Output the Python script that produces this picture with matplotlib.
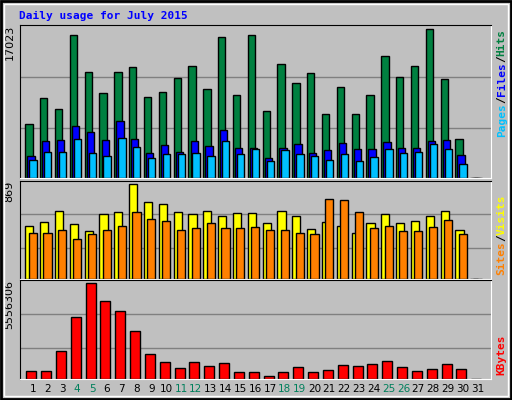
import matplotlib
matplotlib.use('Agg')
import matplotlib.pyplot as plt
from matplotlib.patches import Rectangle
import numpy as np

days = list(range(1, 32))
weekend = [4, 5, 11, 12, 18, 19, 25, 26]

hits = [6162, 9166, 7895, 16330, 12170, 9744, 12170, 12632, 9282, 9859, 11477, 12748, 10206, 16098, 9513,
        16330, 7664, 12979, 10899, 12055, 7317, 10437, 7317, 9513, 13903, 11592, 12748, 17023, 11361, 4429, 0]
files = [2464, 4197, 4312, 5929, 5236, 4312, 6507, 4428, 2811, 3735, 2926, 4197, 3619, 5467, 3388,
         3388, 2233, 3388, 3850, 2811, 3157, 3966, 3273, 3273, 4081, 3388, 3388, 4197, 4312, 2580, 0]
pages = [2002, 2926, 2926, 4428, 2811, 2464, 4543, 3504, 2233, 2695, 2695, 2811, 2464, 4197, 2695,
         3273, 1887, 3157, 2695, 2464, 2002, 2695, 1887, 2349, 3273, 2811, 2926, 3850, 3273, 1656, 0]
visits = [491, 520, 623, 501, 444, 595, 614, 869, 709, 690, 614, 595, 623, 576, 605,
          605, 510, 623, 576, 463, 520, 491, 425, 510, 595, 510, 529, 576, 623, 453, 0]
sites = [425, 425, 453, 368, 416, 453, 491, 614, 548, 529, 453, 472, 510, 472, 472,
         482, 453, 453, 425, 416, 737, 727, 614, 472, 491, 444, 444, 482, 538, 416, 0]
kbytes = [446000, 446000, 1602000, 3610000, 5556306, 4522000, 3975000, 2819000, 1480000, 994000,
          629000, 994000, 750000, 933000, 385000, 385000, 203000, 385000, 689000, 385000,
          507000, 811000, 750000, 872000, 1055000, 689000, 446000, 568000, 872000, 568000, 0]

BG = '#C0C0C0'
mono = 'DejaVu Sans Mono'

fig = plt.figure(figsize=(5.12, 4.0), dpi=100, facecolor=BG)
fig.patches.append(Rectangle((0.002, 0.003), 0.996, 0.994, transform=fig.transFigure,
                             fill=False, edgecolor='black', linewidth=2))
fig.patches.append(Rectangle((0.008, 0.011), 0.984, 0.98, transform=fig.transFigure,
                             fill=False, edgecolor='white', linewidth=1))
fig.text(0.037, 0.96, 'Daily usage for July 2015', color='#0000FF', family=mono,
         fontweight='bold', fontsize=8, va='center')

x = np.arange(31)
L, W = 20 / 512, 471 / 512


def make_ax(top, bottom, ymax, grids, label):
    ax = fig.add_axes([L, 1 - bottom / 400, W, (bottom - top) / 400])
    ax.set_facecolor(BG)
    ax.set_xlim(-0.356, 31.4)
    ax.set_ylim(0, ymax)
    for g in grids:
        ax.axhline(g, color='#808080', linewidth=1, zorder=0)
    ax.set_xticks([])
    ax.set_yticks([])
    for s in ['left', 'top']:
        ax.spines[s].set_color('black')
    for s in ['right', 'bottom']:
        ax.spines[s].set_color('white')
    ax.text(-0.012, 1.0, label, transform=ax.transAxes, rotation=90, ha='right', va='top',
            fontsize=8, color='black')
    return ax


def right_label(ax, parts, y0):
    # chain coloured words bottom-to-top along the right margin
    txt, col = parts[0]
    prev = ax.text(1.012, y0, txt, transform=ax.transAxes, rotation=90, ha='left', va='bottom',
                   color=col, family=mono, fontweight='bold', fontsize=8)
    for txt, col in parts[1:]:
        prev = ax.annotate(txt, xy=(0.5, 1), xycoords=prev, rotation=90, ha='center', va='bottom',
                           color=col, family=mono, fontweight='bold', fontsize=8)


kw = dict(align='edge', edgecolor='black', linewidth=1)

ax1 = make_ax(25, 178, 17485, [5700, 11590], '17023')
ax1.bar(x, hits, 0.49, color='#008040', **kw)
ax1.bar(x + 0.14, files, 0.49, color='#0000FF', **kw)
ax1.bar(x + 0.27, pages, 0.49, color='#00C0FF', **kw)
right_label(ax1, [('Pages', '#00C0FF'), ('/', 'black'), ('Files', '#0000FF'),
                  ('/', 'black'), ('Hits', '#008040')], 0.27)

ax2 = make_ax(181, 279, 900, [283, 595], '869')
ax2.bar(x, visits, 0.55, color='#FFFF00', **kw)
ax2.bar(x + 0.22, sites, 0.55, color='#FF8000', **kw)
right_label(ax2, [('Sites', '#FF8000'), ('/', 'black'), ('Visits', '#FFFF00')], 0.04)

ax3 = make_ax(280, 379, 5759000, [1825000, 3792000], '5556306')
ax3.bar(x + 0.07, kbytes, 0.67, color='#FF0000', **kw)
right_label(ax3, [('KBytes', '#FF0000')], 0.04)

for d in days:
    ax3.text(d - 0.5, -0.1, str(d), transform=ax3.get_xaxis_transform(), ha='center', va='center',
             fontsize=7.5, color='#00805C' if d in weekend else 'black')

fig.savefig('out.png', dpi=100, facecolor=BG)
